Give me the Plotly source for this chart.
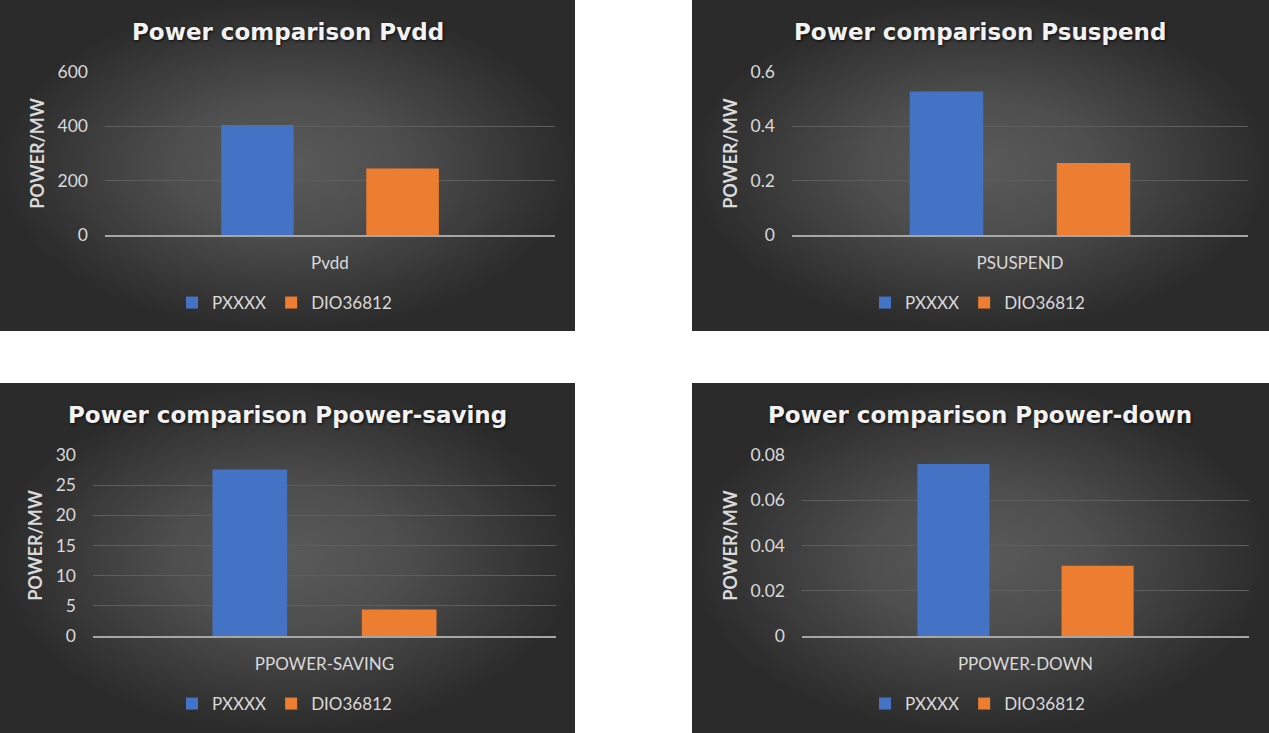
import plotly.graph_objects as go

# series
series_names = ["PXXXX", "DIO36812"]
series_colors = ["#4472C4", "#ED7D31"]

# one category per chart
chart_titles = ["Power comparison Pvdd", "Power comparison Psuspend",
                "Power comparison Ppower-saving", "Power comparison Ppower-down"]
categories = ["Pvdd", "PSUSPEND", "PPOWER-SAVING", "PPOWER-DOWN"]
pxxxx = [405, 0.528, 27.6, 0.076]
dio36812 = [245, 0.265, 4.4, 0.031]
y_max = [600, 0.6, 30, 0.08]
y_step = [200, 0.2, 5, 0.02]
y_title = "POWER/MW"

W, H = 1269, 733
# panel boxes and plot areas in pixels: (x0, x1, y0, y1)
panels = [(0, 575, 0, 331), (692, 1269, 0, 331), (0, 575, 383, 733), (692, 1269, 383, 733)]
plots = [(105, 555, 72, 235), (792, 1248, 72, 235), (93, 556, 455, 636), (802, 1249, 455, 636)]
title_y = [32, 32, 415, 415]
legend_y = [303, 303, 704, 704]


def px_x(v):
    return v / W


def px_y(v):
    return 1 - v / H


FONT = "Lato, 'Open Sans', sans-serif"
TXT = "#d9d9d9"

fig = go.Figure()
layout = dict(width=W, height=H, margin=dict(l=0, r=0, t=0, b=0, autoexpand=False),
              paper_bgcolor="white", plot_bgcolor="rgba(0,0,0,0)",
              barmode="group", bargap=0.355, bargroupgap=0.5,
              font=dict(family=FONT, color=TXT, size=17))
annotations = []

# dark panels with a radial gradient, on hidden axes 1-4 (drawn first, so underneath)
for i, (x0, x1, y0, y1) in enumerate(panels):
    n = i + 1
    sfx = "" if n == 1 else str(n)
    fig.add_trace(go.Scatter(x=[0, 1, 1, 0, 0], y=[0, 0, 1, 1, 0], fill="toself", mode="none",
                             fillgradient=dict(type="radial",
                                               colorscale=[[0, "#5a5a5a"], [0.4, "#4e4e4e"],
                                                           [1, "#2b2b2b"]]),
                             xaxis="x" + sfx, yaxis="y" + sfx,
                             hoverinfo="skip", showlegend=False))
    layout["xaxis" + sfx] = dict(domain=[px_x(x0), px_x(x1)], range=[0, 1], visible=False,
                                 fixedrange=True, anchor="y" + sfx)
    layout["yaxis" + sfx] = dict(domain=[px_y(y1), px_y(y0)], range=[0, 1], visible=False,
                                 fixedrange=True, anchor="x" + sfx)

# bar charts on axes 5-8
for i in range(4):
    n = i + 5
    px0, px1, py0, py1 = plots[i]
    x0, x1, y0, y1 = panels[i]
    leg = "legend" if i == 0 else "legend" + str(i + 1)
    vals = [pxxxx[i], dio36812[i]]
    for name, color, v in zip(series_names, series_colors, vals):
        fig.add_trace(go.Bar(x=[categories[i]], y=[v], name=name, marker_color=color,
                             marker_line_width=0, xaxis="x%d" % n, yaxis="y%d" % n,
                             legend=leg, showlegend=True))
    layout["xaxis%d" % n] = dict(domain=[px_x(px0), px_x(px1)], anchor="y%d" % n,
                                 showgrid=False, showline=True, linecolor="#a6a6a6", linewidth=1.5,
                                 ticks="", ticklabelstandoff=12,
                                 tickfont=dict(family=FONT, size=17, color=TXT))
    layout["yaxis%d" % n] = dict(domain=[px_y(py1), px_y(py0)], anchor="x%d" % n,
                                 range=[0, y_max[i]], tick0=0, dtick=y_step[i],
                                 showgrid=True, gridcolor="#5e5e5e", gridwidth=1,
                                 zeroline=False, showline=False, ticks="", ticklabelstandoff=16,
                                 tickfont=dict(family=FONT, size=17.5, color=TXT),
                                 title=dict(text=y_title, standoff=8,
                                            font=dict(family=FONT, size=18, color=TXT, weight="bold")))
    layout[leg] = dict(orientation="h", xanchor="center", yanchor="middle",
                       x=px_x((x0 + x1) / 2 - 3), y=px_y(legend_y[i]),
                       bgcolor="rgba(0,0,0,0)", font=dict(family=FONT, size=17, color=TXT),
                       itemclick=False)
    annotations.append(dict(text=chart_titles[i], xref="paper", yref="paper",
                            x=px_x((x0 + x1) / 2), y=px_y(title_y[i]), showarrow=False,
                            xanchor="center", yanchor="middle",
                            font=dict(family="'DejaVu Sans', sans-serif", size=23, color="#f2f2f2",
                                      weight="bold", shadow="1px 1px 3px rgba(0,0,0,0.8)")))

layout["annotations"] = annotations
fig.update_layout(**layout)
# page body margin would shift the figure by 8px
fig.write_html("out.html", post_script="document.body.style.margin='0';",
               config={"displayModeBar": False})
